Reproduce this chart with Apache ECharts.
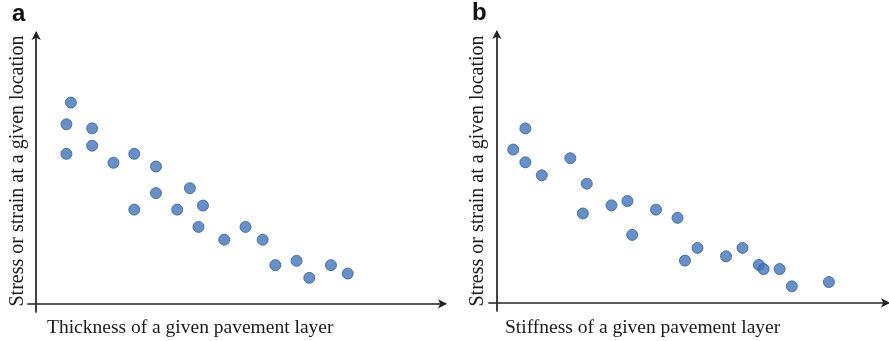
<!DOCTYPE html>
<html>
<head>
<meta charset="utf-8">
<style>
  html, body { margin: 0; padding: 0; background: #fff; }
  #chart { width: 889px; height: 341px; }
</style>
<script src="https://cdn.jsdelivr.net/npm/echarts@6/dist/echarts.min.js"></script>
</head>
<body>
<div id="chart"></div>
<script>
// Panel a: response vs. layer thickness (arbitrary units)
const thicknessX = [0.85, 0.74, 1.37, 1.37, 0.74, 1.89, 2.40, 2.93, 2.93, 3.76, 4.08,
                    2.40, 3.45, 3.97, 4.60, 5.12, 5.54, 5.85, 6.37, 6.68, 7.21, 7.62];
const thicknessY = [7.43, 6.63, 6.48, 5.84, 5.54, 5.21, 5.54, 5.07, 4.09, 4.27, 3.63,
                    3.48, 3.48, 2.84, 2.37, 2.84, 2.37, 1.43, 1.59, 0.96, 1.43, 1.12];

// Panel b: response vs. layer stiffness (arbitrary units)
const stiffnessX = [0.42, 0.73, 0.73, 1.15, 1.88, 2.30, 2.20, 2.93, 3.34, 3.46, 4.07,
                    4.62, 4.81, 5.13, 5.86, 6.28, 6.70, 6.82, 7.23, 7.54, 8.49];
const stiffnessY = [5.66, 6.44, 5.19, 4.71, 5.34, 4.40, 3.30, 3.60, 3.76, 2.51, 3.44,
                    3.14, 1.56, 2.03, 1.72, 2.03, 1.40, 1.25, 1.25, 0.61, 0.77];

const yTitle = 'Stress or strain at a given location';
const xTitleA = 'Thickness of a given pavement layer';
const xTitleB = 'Stiffness of a given pavement layer';
const panelLabels = ['a', 'b'];

const pairs = (xs, ys) => xs.map((x, i) => [x, ys[i]]);

const axisColor = '#222222';
const dotColor = '#4273b8';

function valueAxis(gridIndex, min) {
  return {
    type: 'value', gridIndex, min, max: 10,
    splitLine: { show: false }, axisTick: { show: false }, axisLabel: { show: false },
    axisLine: {
      show: true, onZero: true,
      symbol: ['none', 'arrow'], symbolSize: [7, 9], symbolOffset: [0, 2],
      lineStyle: { color: axisColor, width: 1.7 }
    }
  };
}

function scatter(idx, data) {
  return {
    type: 'scatter', xAxisIndex: idx, yAxisIndex: idx, data,
    symbolSize: 11,
    itemStyle: { color: dotColor, borderColor: '#335e98', borderWidth: 1 },
    emphasis: { disabled: true }
  };
}

const serif = '"Liberation Serif", "DejaVu Serif", serif';
const labelFont = 'bold 24px "Liberation Sans", Arial, sans-serif';

const chart = echarts.init(document.getElementById('chart'), null, { renderer: 'canvas' });
chart.setOption({
  animation: false,
  backgroundColor: '#ffffff',
  grid: [
    { left: 28, top: 33, width: 417, height: 279 },
    { left: 489, top: 32, width: 399, height: 279 }
  ],
  xAxis: [valueAxis(0, -0.2), valueAxis(1, -0.2)],
  yAxis: [valueAxis(0, -0.3), valueAxis(1, -0.3)],
  series: [
    scatter(0, pairs(thicknessX, thicknessY)),
    scatter(1, pairs(stiffnessX, stiffnessY))
  ],
  graphic: [
    { type: 'text', left: 12, top: 2,
      style: { text: panelLabels[0], font: labelFont, fill: '#111' } },
    { type: 'text', left: 472, top: 1,
      style: { text: panelLabels[1], font: labelFont, fill: '#111' } },
    { type: 'text', x: 18, y: 171, rotation: Math.PI / 2,
      style: { text: yTitle, font: '20px ' + serif, fill: '#1a1a1a', align: 'center', verticalAlign: 'middle' } },
    { type: 'text', x: 478, y: 171, rotation: Math.PI / 2,
      style: { text: yTitle, font: '20px ' + serif, fill: '#1a1a1a', align: 'center', verticalAlign: 'middle' } },
    { type: 'text', x: 47, y: 328,
      style: { text: xTitleA, font: '19.5px ' + serif, fill: '#1a1a1a', align: 'left', verticalAlign: 'middle' } },
    { type: 'text', x: 505, y: 328,
      style: { text: xTitleB, font: '19.5px ' + serif, fill: '#1a1a1a', align: 'left', verticalAlign: 'middle' } }
  ]
});
</script>
</body>
</html>
